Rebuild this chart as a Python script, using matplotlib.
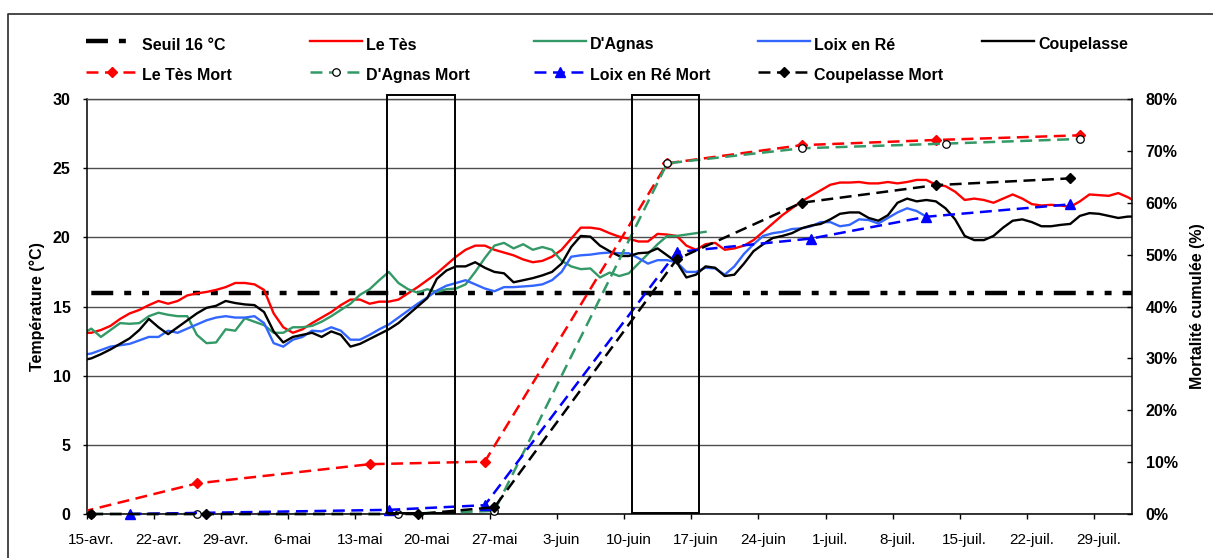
import numpy as np
import matplotlib
matplotlib.use("Agg")
import matplotlib.pyplot as plt
from matplotlib.lines import Line2D
from matplotlib.patches import Rectangle
from matplotlib.ticker import PercentFormatter
from matplotlib.transforms import ScaledTranslation

plt.rcParams["font.family"] = ["Liberation Sans", "DejaVu Sans"]
plt.rcParams["lines.scale_dashes"] = False

# ---------------------------------------------------------------------------
# Data. x values are days counted from 15 April. Daily mean temperatures are
# plotted at noon, the first value being the one of 14 April.
# ---------------------------------------------------------------------------
first_temp_day = -0.5

temp_le_tes = [
    13.1,
    13.1, 13.3, 13.6, 14.1, 14.5, 14.75, 15.1, 15.4, 15.2, 15.4,
    15.8, 15.95, 16.05, 16.2, 16.4, 16.7, 16.7, 16.6, 16.2, 14.5,
    13.5, 13.1, 13.35, 13.8, 14.2, 14.6, 15.1, 15.5, 15.5, 15.2,
    15.35, 15.35, 15.5, 15.95, 16.4, 16.9, 17.4, 18.0, 18.6, 19.1,
    19.4, 19.4, 19.1, 18.9, 18.7, 18.4, 18.2, 18.3, 18.6, 19.1,
    19.9, 20.7, 20.7, 20.6, 20.3, 20.05, 19.9, 19.7, 19.7, 20.25,
    20.2, 20.1, 19.4, 19.1, 19.5, 19.6, 19.1, 19.2, 19.4, 19.8,
    20.4, 21.0,
    21.6, 22.1, 22.6, 23.0, 23.4, 23.8, 23.96, 23.96, 24.0, 23.9,
    23.9, 24.0, 23.9, 24.0, 24.15, 24.15, 23.8, 23.7, 23.3, 22.7,
    22.8, 22.7, 22.5, 22.8, 23.1, 22.8, 22.4, 22.3, 22.35, 22.3,
    22.2, 22.6, 23.1, 23.05, 23.0, 23.2, 22.9, 22.5,
]

temp_d_agnas = [
    13.0,
    13.4, 12.8, 13.3, 13.8, 13.75, 13.8, 14.3, 14.55, 14.4, 14.3,
    14.3, 12.95, 12.35, 12.4, 13.35, 13.25, 14.15, 13.9, 13.65, 13.1,
    13.1, 13.5, 13.5, 13.6, 13.9, 14.3, 14.75, 15.2, 15.85, 16.25,
    16.9, 17.5, 16.7, 16.25, 16.0, 16.25, 16.05, 16.25, 16.3, 16.6,
    17.5, 18.5, 19.4, 19.6, 19.2, 19.5, 19.1, 19.3, 19.1, 18.3,
    17.9, 17.7, 17.75, 17.1, 17.45, 17.2, 17.4, 18.1, 18.8, 19.5,
    20.1, 20.1, 20.2, 20.3, 20.4,
]

temp_loix = [
    11.5,
    11.6, 11.85, 12.1, 12.2, 12.3, 12.55, 12.8, 12.8, 13.25, 13.1,
    13.4, 13.7, 14.0, 14.2, 14.3, 14.2, 14.2, 14.3, 13.8, 12.35,
    12.1, 12.6, 12.8, 13.25, 13.2, 13.5, 13.25, 12.6, 12.6, 12.95,
    13.35, 13.7, 14.2, 14.7, 15.2, 15.65, 16.15, 16.5, 16.7, 16.9,
    16.6, 16.3, 16.1, 16.4, 16.4, 16.45, 16.5, 16.6, 16.9, 17.5,
    18.6, 18.7, 18.75, 18.85, 18.9, 18.85, 18.85, 18.5, 18.1, 18.35,
    18.35, 18.2, 17.5, 17.5, 17.8, 17.75, 17.3, 17.9, 18.8, 19.5,
    20.1, 20.3,
    20.4, 20.6, 20.65, 20.8, 21.1, 21.1, 20.8, 20.9, 21.3, 21.25,
    21.0, 21.4, 21.8, 22.1, 21.9, 21.5,
]

temp_coupelasse = [
    11.1,
    11.25, 11.55, 11.9, 12.3, 12.7, 13.3, 14.1, 13.5, 13.0, 13.5,
    14.0, 14.5, 14.9, 15.05, 15.4, 15.25, 15.15, 15.1, 14.6, 13.2,
    12.4, 12.8, 12.95, 13.1, 12.8, 13.2, 12.95, 12.1, 12.3, 12.65,
    13.0, 13.35, 13.8, 14.4, 15.0, 15.6, 17.0, 17.6, 17.9, 17.9,
    18.2, 17.8, 17.5, 17.4, 16.75, 16.9, 17.05, 17.25, 17.5, 18.1,
    19.3, 20.1, 20.05, 19.4, 19.0, 18.65, 18.65, 18.85, 18.9, 19.2,
    18.7, 18.2, 17.1, 17.3, 17.9, 17.8, 17.2, 17.3, 18.1, 19.0,
    19.5, 19.95,
    20.1, 20.3, 20.65, 20.85, 20.97, 21.3, 21.7, 21.8, 21.8, 21.4,
    21.2, 21.6, 22.5, 22.8, 22.6, 22.7, 22.6, 22.1, 21.3, 20.1,
    19.8, 19.8, 20.1, 20.7, 21.2, 21.3, 21.1, 20.8, 20.8, 20.9,
    20.97, 21.55, 21.75, 21.7, 21.55, 21.4, 21.5, 21.5,
]

seuil_temp = 16.0

# cumulative mortality (%) at each sampling date
mort_le_tes_day = [-0.5, 11.5, 29.5, 41.5, 60.5, 74.5, 88.5, 103.5]
mort_le_tes = [0.4, 5.9, 9.6, 10.1, 67.6, 71.1, 72.1, 73.0]

mort_d_agnas_day = [0.5, 11.5, 32.5, 42.5, 60.5, 74.5, 89.5, 103.5]
mort_d_agnas = [0.0, 0.0, 0.0, 0.6, 67.6, 70.5, 71.4, 72.3]

mort_loix_day = [4.5, 31.5, 41.5, 61.5, 75.5, 87.5, 102.5]
mort_loix = [0.0, 0.8, 1.7, 50.5, 53.1, 57.3, 59.7]

mort_coupelasse_day = [0.5, 12.5, 34.5, 42.5, 61.5, 74.5, 88.5, 102.5]
mort_coupelasse = [0.0, 0.0, 0.0, 1.3, 49.1, 60.0, 63.4, 64.7]

# highlighted periods (start day, end day)
windows = [(31.3, 38.4), (56.8, 63.8)]

week_days = [0, 7, 14, 21, 28, 35, 42, 49, 56, 63, 70, 77, 84, 91, 98, 105]
week_labels = ["15-avr.", "22-avr.", "29-avr.", "6-mai", "13-mai", "20-mai",
               "27-mai", "3-juin", "10-juin", "17-juin", "24-juin", "1-juil.",
               "8-juil.", "15-juil.", "22-juil.", "29-juil."]
temp_ticks = [0, 5, 10, 15, 20, 25, 30]
mort_ticks = [0, 10, 20, 30, 40, 50, 60, 70, 80]

# ---------------------------------------------------------------------------
# Styles
# ---------------------------------------------------------------------------
RED = "#FF0000"
GREEN = "#339966"
BLUE_T = "#3366FF"
BLUE_M = "#0000FF"
BLACK = "#000000"
GRID = "#4d4d4d"

SEUIL_DASH = (15.8, 7.9, 5.0, 7.9, 5.0, 7.9)
MORT_DASH = (8.6, 4.7)
TEMP_LW = 1.7
MORT_LW = 1.8

W, H, DPI = 1213, 558, 100
fig = plt.figure(figsize=(W / DPI, H / DPI), dpi=DPI)


def px_box(x0, y0, x1, y1):
    return [x0 / W, 1 - y1 / H, (x1 - x0) / W, (y1 - y0) / H]


# full-figure canvas in pixel units (chart frame and legend)
canvas = fig.add_axes([0, 0, 1, 1])
canvas.set_xlim(0, W)
canvas.set_ylim(H, 0)
canvas.axis("off")
canvas.add_line(Line2D([8, 8, W], [H, 14, 14], color="#3a3a3a", lw=1.3))

ax = fig.add_axes(px_box(86.5, 99, 1131.7, 514))
ax2 = ax.twinx()

x_max = 108.9

# temperature series
ax.axhline(seuil_temp, color=BLACK, lw=3.2, ls=(46.4, SEUIL_DASH))
for series, col in [(temp_le_tes, RED), (temp_d_agnas, GREEN),
                    (temp_loix, BLUE_T), (temp_coupelasse, BLACK)]:
    days = first_temp_day + np.arange(len(series))
    ax.plot(days, series, color=col, lw=TEMP_LW, solid_joinstyle="round")

ax.set_xlim(0, x_max)
ax.set_ylim(0, 30)
ax.set_axisbelow(True)
ax.yaxis.grid(True, color=GRID, lw=1.0)
ax.spines["top"].set_color(GRID)
ax.spines["top"].set_linewidth(1.0)
ax.spines["right"].set_visible(False)
for s in ("left", "bottom"):
    ax.spines[s].set_color(BLACK)
    ax.spines[s].set_linewidth(1.1)

ax.set_xticks(week_days)
ax.set_xticklabels(week_labels)
ax.tick_params(axis="x", direction="out", length=3.6, width=1, pad=10,
               labelsize=11)
shift = ScaledTranslation(4.5 / DPI, 0, fig.dpi_scale_trans)
for lbl in ax.get_xticklabels():
    lbl.set_transform(lbl.get_transform() + shift)

ax.set_yticks(temp_ticks)
ax.tick_params(axis="y", direction="out", length=2.9, width=1, pad=8.5,
               labelsize=11.5)
for lbl in ax.get_yticklabels():
    lbl.set_fontweight("bold")
ax.set_ylabel("Température (°C)", fontsize=11.5, fontweight="bold", va="center")
ax.yaxis.set_label_coords(-0.0469, 0.5)

# mortality series on the secondary axis
clip_rect = Rectangle((0, -3), x_max, 86, transform=ax2.transData)
mort_series = [
    (mort_le_tes_day, mort_le_tes, RED, dict(marker="D", ms=4.6, mfc=RED, mec=RED)),
    (mort_d_agnas_day, mort_d_agnas, GREEN, dict(marker="o", ms=5.4, mfc="white", mec=BLACK, mew=0.9)),
    (mort_loix_day, mort_loix, BLUE_M, dict(marker="^", ms=6.5, mfc=BLUE_M, mec=BLUE_M)),
    (mort_coupelasse_day, mort_coupelasse, BLACK, dict(marker="D", ms=4.6, mfc=BLACK, mec=BLACK)),
]
for d, v, col, mk in mort_series:
    ln, = ax2.plot(d, v, color=col, lw=MORT_LW, ls=(0, MORT_DASH), **mk)
    ln.set_clip_path(clip_rect)

ax2.set_ylim(0, 80)
ax2.set_yticks(mort_ticks)
ax2.yaxis.set_major_formatter(PercentFormatter(decimals=0))
ax2.tick_params(axis="y", direction="in", length=3.6, width=1, pad=10,
                labelsize=11.5)
for lbl in ax2.get_yticklabels():
    lbl.set_fontweight("bold")
for s in ("left", "top", "bottom"):
    ax2.spines[s].set_visible(False)
ax2.spines["right"].set_color(BLACK)
ax2.spines["right"].set_linewidth(1.1)
ax2.set_ylabel("Mortalité cumulée (%)", fontsize=11.5, fontweight="bold",
               rotation=90, va="center")
ax2.yaxis.set_label_coords(1.0629, 0.5)

# highlighted periods
for start, end in windows:
    ax2.add_patch(Rectangle((start, 0.1), end - start, 30.22,
                            transform=ax.transData, fill=False, ec=BLACK,
                            lw=1.4, clip_on=False, zorder=5))
ax2.set_xlim(0, x_max)
ax2.set_ylim(0, 80)

# legend (5 equal columns, two rows)
mort_names = ["Le Tès Mort", "D'Agnas Mort", "Loix en Ré Mort", "Coupelasse Mort"]
legend_entries = [
    ("Seuil 16 °C", dict(color=BLACK, lw=3.2, ls=(0, SEUIL_DASH)), 41),
    ("Le Tès", dict(color=RED, lw=TEMP_LW), 52),
    ("D'Agnas", dict(color=GREEN, lw=TEMP_LW), 52),
    ("Loix en Ré", dict(color=BLUE_T, lw=TEMP_LW), 52),
    ("Coupelasse", dict(color=BLACK, lw=TEMP_LW), 52),
]
for name, (_, _, col, mk) in zip(mort_names, mort_series):
    legend_entries.append(
        (name, dict(color=col, lw=MORT_LW, ls=(0, MORT_DASH), **mk), 52))

for i, (label, style, handle_len) in enumerate(legend_entries):
    row, col = divmod(i, 5)
    tx = 142 + 224 * col
    hy = 41 + 30.5 * row
    x0 = tx - 56
    x1 = x0 + handle_len
    xm = x0 + 26
    canvas.add_line(Line2D([x0, xm, x1], [hy, hy, hy],
                           markevery=[1], **style))
    canvas.text(tx, hy + 8.5, label, fontsize=11.5, fontweight="bold",
                va="baseline", ha="left")

fig.savefig("out.png", dpi=DPI)
